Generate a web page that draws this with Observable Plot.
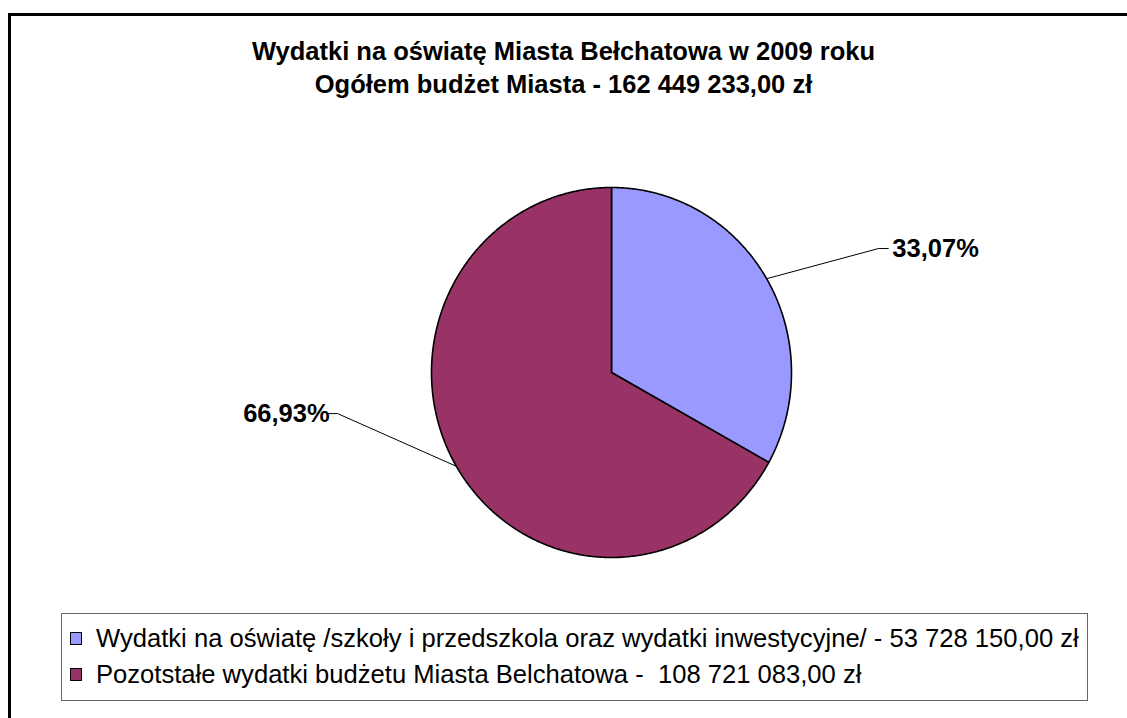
<!DOCTYPE html>
<html>
<head>
<meta charset="utf-8">
<script src="https://cdn.jsdelivr.net/npm/d3@7"></script>
<script src="https://cdn.jsdelivr.net/npm/@observablehq/plot@0.6"></script>
<style>
  html, body { margin: 0; padding: 0; background: #fff; }
  body { width: 1127px; height: 718px; position: relative; overflow: hidden; font-family: "Liberation Sans", Arial, sans-serif; }
  #frame { position: absolute; left: 8px; top: 13px; width: 1200px; height: 800px; border: 3px solid #000; box-sizing: border-box; }
  #chart { position: absolute; left: 0; top: 0; }
  .title { position: absolute; left: 0; width: 1127px; text-align: center; font-weight: bold; font-size: 25.5px; color: #000; white-space: nowrap; }
  #legend { position: absolute; left: 61px; top: 613px; width: 1027px; height: 88px; border: 1px solid #666; box-sizing: border-box; background: #fff; }
  .row { position: absolute; left: 0; height: 30px; line-height: 30px; font-size: 25.6px; white-space: pre; color: #000; }
  .sw { position: absolute; left: 8px; top: 9px; width: 10px; height: 11px; border: 1px solid #000; }
  .lt { position: absolute; left: 34px; top: 0; }
</style>
</head>
<body>
<div id="frame"></div>
<div id="chart"></div>
<div class="title" id="t1" style="top:37px"></div>
<div class="title" id="t2" style="top:70px"></div>
<div id="legend"></div>
<script>
// ---- data ----
const titleLines = ["Wydatki na oświatę Miasta Bełchatowa w 2009 roku", "Ogółem budżet Miasta - 162 449 233,00 zł"];
const categories = [
  "Wydatki na oświatę /szkoły i przedszkola oraz wydatki inwestycyjne/ - 53 728 150,00 zł",
  "Pozotstałe wydatki budżetu Miasta Belchatowa -  108 721 083,00 zł"
];
const values = [53728150.00, 108721083.00];
const percentLabels = ["33,07%", "66,93%"];
const colors = ["#9999FF", "#993366"];

// ---- layout (not data) ----
const W = 1127, H = 718;
const cx = 611, cy = 372, rx = 180, ry = 185;
const labelOffset = [[0.621, 0.163], [-0.66, 0.285]];   // elbow offset from slice edge (unit radii)
const tailLen = [0.055, -0.055];

document.getElementById("t1").textContent = titleLines[0];
document.getElementById("t2").textContent = titleLines[1];

// angles: clockwise from 12 o'clock
const total = d3.sum(values);
let acc = 0;
const slices = values.map((v, i) => {
  const a0 = acc / total * 2 * Math.PI;
  acc += v;
  const a1 = acc / total * 2 * Math.PI;
  return {name: categories[i], a0, a1, mid: (a0 + a1) / 2, label: percentLabels[i], i};
});

const ring = [];
for (const s of slices) {
  ring.push({name: s.name, x: 0, y: 0});
  const n = Math.max(8, Math.ceil((s.a1 - s.a0) / (Math.PI / 360)));
  for (let k = 0; k <= n; k++) {
    const t = s.a0 + (s.a1 - s.a0) * k / n;
    ring.push({name: s.name, x: Math.sin(t), y: Math.cos(t)});
  }
  ring.push({name: s.name, x: 0, y: 0});
}

const leaders = [];
const labels = [];
for (const s of slices) {
  const ex = Math.sin(s.mid), ey = Math.cos(s.mid);
  const bx = ex + labelOffset[s.i][0], by = ey + labelOffset[s.i][1];
  const tx = bx + tailLen[s.i];
  leaders.push({id: s.i, x: ex, y: ey}, {id: s.i, x: bx, y: by}, {id: s.i, x: tx, y: by});
  labels.push({x: tx, y: by, text: s.label, anchor: s.i === 0 ? "start" : "end"});
}

const chart = Plot.plot({
  width: W, height: H,
  margin: 0,
  style: {background: "transparent", overflow: "visible"},
  x: {domain: [-1, 1], range: [cx - rx, cx + rx], axis: null},
  y: {domain: [-1, 1], range: [cy + ry, cy - ry], axis: null},
  color: {domain: categories, range: colors},
  marks: [
    Plot.line(ring, {x: "x", y: "y", z: "name", fill: "name", stroke: "#000", strokeWidth: 1.6, curve: "linear"}),
    Plot.line(leaders, {x: "x", y: "y", z: "id", stroke: "#000", strokeWidth: 1}),
    Plot.text(labels.filter(d => d.anchor === "start"), {x: "x", y: "y", text: "text", textAnchor: "start", dx: 4, fontSize: 25.5, fontWeight: "bold", fill: "#000", fontFamily: "Liberation Sans, Arial, sans-serif"}),
    Plot.text(labels.filter(d => d.anchor === "end"), {x: "x", y: "y", text: "text", textAnchor: "end", dx: 2, fontSize: 25.5, fontWeight: "bold", fill: "#000", fontFamily: "Liberation Sans, Arial, sans-serif"})
  ]
});
document.getElementById("chart").appendChild(chart);

const legend = document.getElementById("legend");
categories.forEach((c, i) => {
  const row = document.createElement("div");
  row.className = "row";
  row.style.top = (9 + i * 36) + "px";
  row.innerHTML = `<div class="sw" style="background:${colors[i]}"></div><div class="lt"></div>`;
  row.querySelector(".lt").textContent = c;
  legend.appendChild(row);
});
</script>
</body>
</html>
